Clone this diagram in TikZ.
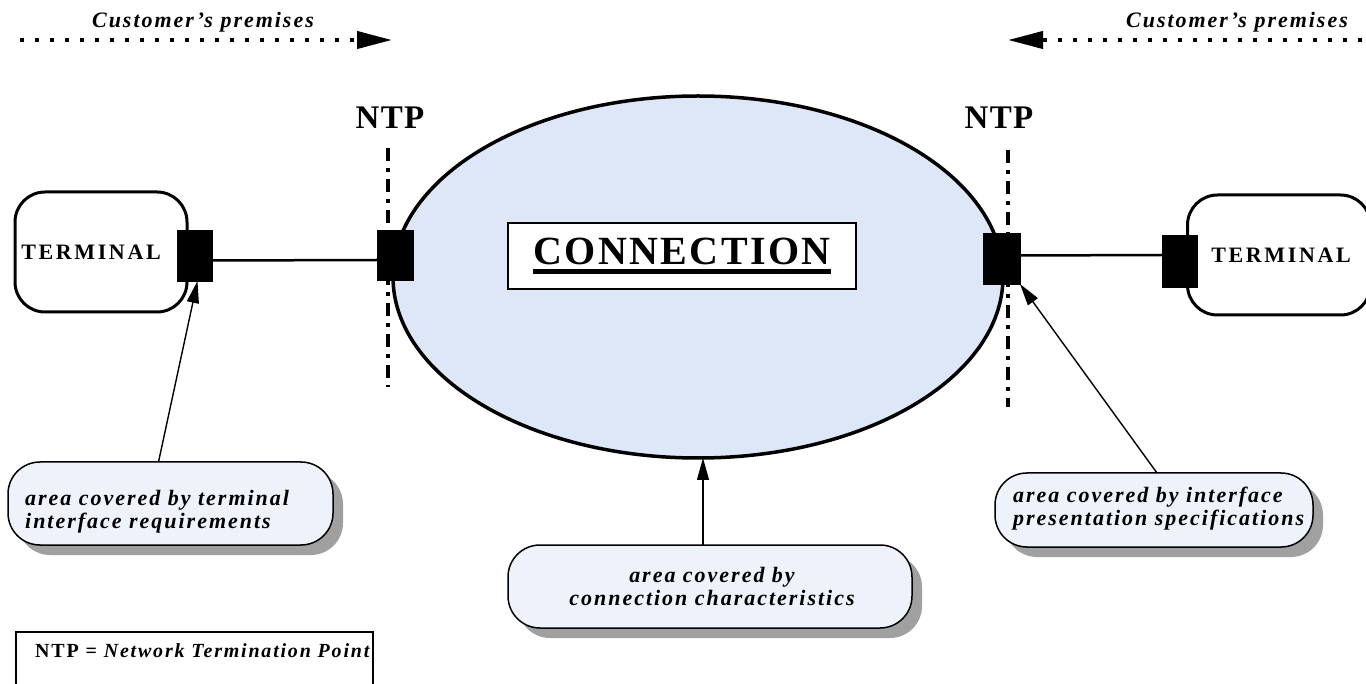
\documentclass[tikz,border=0pt]{standalone}
\usepackage{fontspec}
\setmainfont{Liberation Serif}
\newfontfamily\spacedfont[LetterSpace=9]{Liberation Serif}
\newfontfamily\termfont[LetterSpace=12]{Liberation Serif}
\newfontfamily\connfont[LetterSpace=6]{Liberation Serif}
\newfontfamily\ntpfont[LetterSpace=4]{Liberation Serif}
\usetikzlibrary{arrows.meta,shapes.geometric,shadows}
\definecolor{connblue}{RGB}{222,231,248}
\definecolor{callblue}{RGB}{237,242,251}
\definecolor{shadowgray}{RGB}{160,160,160}
\tikzset{
  port/.style={draw=black, fill=black, minimum width=36, minimum height=51, inner sep=0, outer sep=0},
  term/.style={draw, line width=3, rounded corners=30, inner sep=0, outer sep=0,
    font=\termfont\bfseries\fontsize{22}{22}\selectfont},
  callout/.style={draw, line width=1.5, fill=callblue, rounded corners=32, inner sep=0, outer sep=0,
    drop shadow={shadow xshift=10pt, shadow yshift=-10pt, fill=shadowgray, opacity=1}},
  calltext/.style={font=\spacedfont\bfseries\itshape\fontsize{22}{23}\selectfont, inner sep=0},
  ptr/.style={line width=1.4, -{Triangle[length=22pt,width=12pt]}},
  ntpline/.style={line width=3.5, dash pattern=on 13pt off 7pt on 4pt off 7pt},
  premarrow/.style={line width=4, dash pattern=on 4pt off 11pt, -{Triangle[length=35pt,width=17pt]}},
  toptext/.style={font=\spacedfont\bfseries\itshape\fontsize{22}{23}\selectfont, inner sep=0},
  ntplabel/.style={font=\ntpfont\bfseries\fontsize{33}{33}\selectfont, inner sep=0},
  link/.style={line width=2.5},
}
\begin{document}
\begin{tikzpicture}[x=1pt,y=-1pt]
\path[use as bounding box] (0,0) rectangle (1366,684);
\clip (0,0) rectangle (1366,684);

% connection ellipse
\node[ellipse, draw, line width=3.5, fill=connblue, minimum width=610, minimum height=362,
      inner sep=0, outer sep=0] (conn) at (698,277) {};

% NTP dash-dot lines
\coordinate (nlt) at (388,148);
\coordinate (nlb) at (388,387);
\coordinate (nrt) at (1008,150);
\coordinate (nrb) at (1008,407);
\draw[ntpline] (nlt) -- (nlb);
\draw[ntpline] (nrt) -- (nrb);

% NTP labels
\node[ntplabel] (ntpL) at (390,118) {NTP};
\node[ntplabel] (ntpR) at (999,118) {NTP};

% CONNECTION box
\node[draw, line width=1.8, fill=white, minimum width=348, minimum height=66, inner sep=0] (connbox) at (682,256)
  {\connfont\bfseries\fontsize{40}{40}\selectfont\setbox0\hbox{CONNECTION}\vtop{\copy0\kern4pt\hrule height 4.5pt width \wd0}};

% terminals
\node[term, minimum width=172, minimum height=120] (ltermbox) at (101,252) {\hspace*{-20pt}TERMINAL};
\node[term, minimum width=183, minimum height=120] (rtermbox) at (1279,255) {\hspace*{4pt}TERMINAL};

% ports
\node[port, minimum width=35, minimum height=51] (ltp) at (194.5,255.5) {};
\node[port, minimum width=36, minimum height=50] (lntp) at (395,255) {};
\node[port, minimum width=37, minimum height=51] (rntp) at (1001.5,258.5) {};
\node[port, minimum width=35, minimum height=52] (rtp) at (1179.5,261) {};

\draw[link] ([yshift=-5pt]ltp.east) -- ([yshift=-5pt]lntp.west);
\draw[link] ([yshift=3pt]rntp.east) -- ([yshift=6pt]rtp.west);

% callouts
\node[callout, minimum width=325, minimum height=83] (lcall) at (170.5,503.5) {};
\node[callout, minimum width=404, minimum height=83] (mcall) at (710,586.5) {};
\node[callout, minimum width=318, minimum height=74] (rcall) at (1154,510) {};

\node[calltext, anchor=base west, align=left] (lcallt) at (25,528) {area covered by terminal\\interface requirements};
\node[calltext, anchor=base, align=center] (mcallt) at (712,605) {area covered by\\connection characteristics};
\node[calltext, anchor=base west, align=left] (rcallt) at (1013,525) {area covered by interface\\presentation specifications};

% pointers
\draw[ptr] ([xshift=-12pt]lcall.north) -- ([xshift=3pt]ltp.south);
\draw[ptr] ([xshift=-7pt]mcall.north) -- ([xshift=-7pt]mcall.north |- conn.south);
\draw[ptr] ([xshift=3pt]rcall.north) -- (rntp.south east);

% customer's premises
\node[toptext, anchor=base] (cpL) at (203,28) {Customer’s premises};
\node[toptext, anchor=base] (cpR) at (1237,28) {Customer’s premises};
\coordinate (alS) at (20,40);
\coordinate (alE) at (392,40);
\coordinate (arS) at (1362,40);
\coordinate (arE) at (1008,40);
\draw[premarrow] (alS) -- (alE);
\draw[premarrow] (arS) -- (arE);

% legend
\node[draw, line width=1.5, minimum width=357, minimum height=70, inner sep=0, outer sep=0] (legend) at (194.5,667) {};
\node[font=\spacedfont\bfseries\fontsize{20}{20}\selectfont, inner sep=0, anchor=base west] (legendt) at (35,657)
  {NTP = \textit{Network Termination Point}};
\end{tikzpicture}
\end{document}
